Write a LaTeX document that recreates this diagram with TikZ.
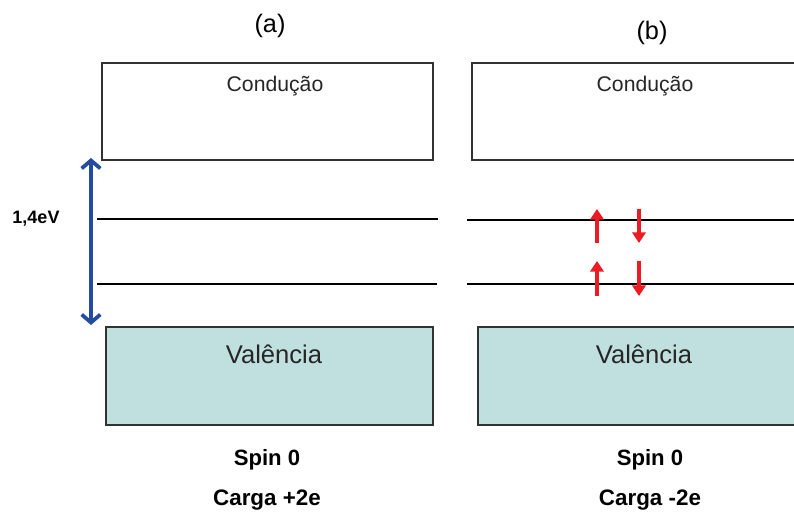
\documentclass[tikz,border=0pt]{standalone}
\usepackage{fontspec}
\setmainfont{Liberation Sans}
\usetikzlibrary{arrows.meta}
\definecolor{valfill}{RGB}{192,224,223}
\definecolor{boxline}{RGB}{50,50,50}
\definecolor{gapblue}{RGB}{35,75,160}
\definecolor{spinred}{RGB}{237,28,36}
\begin{document}
\begin{tikzpicture}[x=0.75pt,y=-0.75pt,
  band/.style={draw=boxline,line width=1.3pt,anchor=north west,inner sep=0pt},
  level/.style={draw=black,line width=1.1pt},
  spinarrow/.style={draw=spinred,line width=2.6pt,-{Triangle[length=8pt,width=10pt]}},
  lbl/.style={anchor=base,inner sep=0pt}]
\useasboundingbox (0,0) rectangle (794,516);
\clip (0,0) rectangle (794,516);
% bands
\node[band,minimum width=331*0.75pt,minimum height=97*0.75pt] (condA) at (101,62) {};
\node[band,minimum width=340*0.75pt,minimum height=97*0.75pt] (condB) at (471,62) {};
\node[band,fill=valfill,minimum width=327*0.75pt,minimum height=98*0.75pt] (valA) at (105,326) {};
\node[band,fill=valfill,minimum width=340*0.75pt,minimum height=98*0.75pt] (valB) at (477,326) {};
% levels
\coordinate (a1l) at (97,219); \coordinate (a1r) at (438,219);
\coordinate (a2l) at (97,284); \coordinate (a2r) at (437,284);
\coordinate (b1l) at (467,220); \coordinate (b1r) at (800,220);
\coordinate (b2l) at (467,284); \coordinate (b2r) at (800,284);
\draw[level] (a1l) -- (a1r);
\draw[level] (a2l) -- (a2r);
\draw[level] (b1l) -- (b1r);
\draw[level] (b2l) -- (b2r);
% gap arrow
\coordinate (gt) at (91,158); \coordinate (gb) at (91,325);
\draw[draw=gapblue,line width=2.8pt,{Straight Barb[length=6pt,width=14pt]}-{Straight Barb[length=6pt,width=14pt]}] (gt) -- (gb);
% spin arrows
\coordinate (u1s) at (597,243); \coordinate (u1e) at (597,209);
\coordinate (u2s) at (597,296); \coordinate (u2e) at (597,261);
\coordinate (d1s) at (639,209); \coordinate (d1e) at (639,243);
\coordinate (d2s) at (639,261); \coordinate (d2e) at (639,296);
\draw[spinarrow] (u1s) -- (u1e);
\draw[spinarrow] (u2s) -- (u2e);
\draw[spinarrow] (d1s) -- (d1e);
\draw[spinarrow] (d2s) -- (d2e);
% labels
\node[lbl,font=\fontsize{19}{22}\selectfont] (la) at (270,33) {(a)};
\node[lbl,font=\fontsize{19}{22}\selectfont] (lb) at (652,40) {(b)};
\node[lbl,font=\fontsize{15.9}{18}\selectfont,text=black!85] (ca) at (275,92) {Condução};
\node[lbl,font=\fontsize{15.9}{18}\selectfont,text=black!85] (cb) at (645,92) {Condução};
\node[lbl,font=\fontsize{19.2}{22}\selectfont,text=black!85] (va) at (274,364) {Valência};
\node[lbl,font=\fontsize{19.2}{22}\selectfont,text=black!85] (vb) at (644,364) {Valência};
\node[lbl,font=\bfseries\fontsize{16.6}{19}\selectfont] (sa) at (267,466) {Spin 0};
\node[lbl,font=\bfseries\fontsize{16.6}{19}\selectfont] (sb) at (650,466) {Spin 0};
\node[lbl,font=\bfseries\fontsize{16.8}{19}\selectfont] (qa) at (267,506) {Carga +2e};
\node[lbl,font=\bfseries\fontsize{16.8}{19}\selectfont] (qb) at (650,506) {Carga -2e};
\node[lbl,font=\bfseries\fontsize{13.5}{16}\selectfont] (gap) at (36,224) {1,4eV};
\end{tikzpicture}
\end{document}
